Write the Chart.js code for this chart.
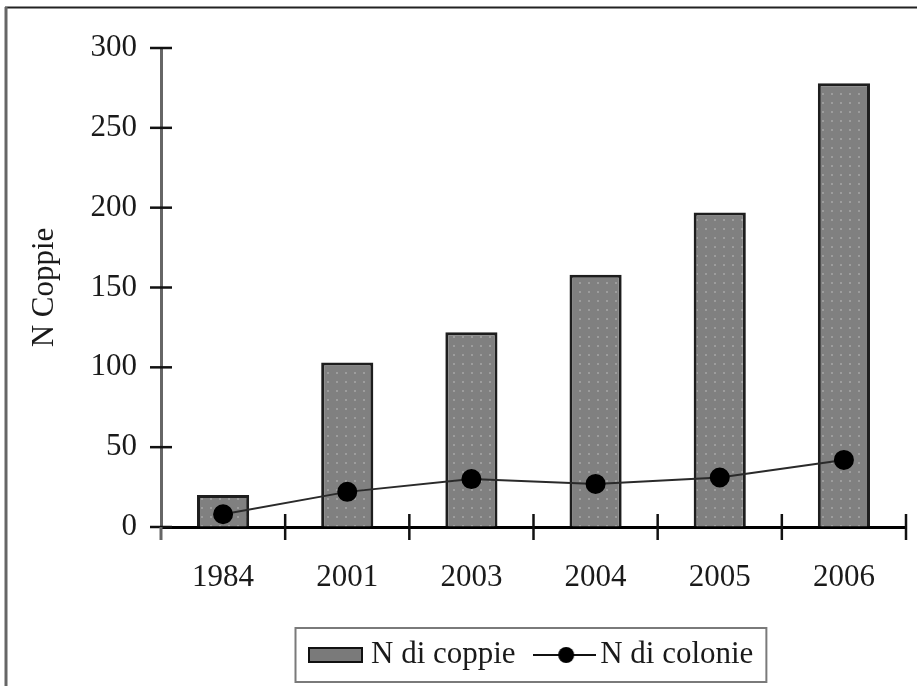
<!DOCTYPE html>
<html>
<head>
<meta charset="utf-8">
<script src="https://cdn.jsdelivr.net/npm/chart.js@4/dist/chart.umd.min.js"></script>
<style>
  html, body { margin: 0; padding: 0; background: #fff; }
  canvas { display: block; }
</style>
</head>
<body>
<canvas id="chart" width="917" height="686"></canvas>
<script>
// ---- data ----
const years = ["1984", "2001", "2003", "2004", "2005", "2006"];
const coppie = [20, 103, 122, 158, 197, 278];
const colonie = [8, 22, 30, 27, 31, 42];
const yTickValues = [0, 50, 100, 150, 200, 250, 300];

const FONT = "'Liberation Serif', 'Times New Roman', serif";
const TXT = "#1a1a1a";

// --- pattern untuk batang (abu-abu dengan titik) ---
function makeDots() {
  const c = document.createElement("canvas");
  c.width = 9; c.height = 9;
  const g = c.getContext("2d");
  g.fillStyle = "#808080";
  g.fillRect(0, 0, 9, 9);
  g.fillStyle = "#9d9d9d";
  g.fillRect(3, 3, 2, 2);
  return g.createPattern(c, "repeat");
}

// --- gambar kecil untuk legend ---
function barSwatch() {
  const c = document.createElement("canvas");
  c.width = 55; c.height = 16;
  const g = c.getContext("2d");
  g.fillStyle = "#7a7a7a";
  g.fillRect(0, 0, 55, 16);
  g.strokeStyle = "#111";
  g.lineWidth = 2;
  g.strokeRect(1, 1, 53, 14);
  return c;
}
function lineSwatch() {
  const c = document.createElement("canvas");
  c.width = 63; c.height = 20;
  const g = c.getContext("2d");
  g.strokeStyle = "#111";
  g.lineWidth = 2;
  g.beginPath(); g.moveTo(0, 10); g.lineTo(63, 10); g.stroke();
  g.fillStyle = "#000";
  g.beginPath(); g.arc(33, 10, 8, 0, Math.PI * 2); g.fill();
  return c;
}

// --- plugin: bingkai, tick sumbu, kotak legend ---
const decor = {
  id: "decor",
  afterLayout(chart) {
    if (chart.legend) chart.legend.left = 286.5;
  },
  afterDraw(chart) {
    const ctx = chart.ctx;
    const area = chart.chartArea;
    const xs = chart.scales.x, ys = chart.scales.y;
    ctx.save();
    // frame
    ctx.strokeStyle = "#222";
    ctx.lineWidth = 2;
    ctx.beginPath(); ctx.moveTo(5, 7.5); ctx.lineTo(917, 7.5); ctx.stroke();
    ctx.strokeStyle = "#666";
    ctx.lineWidth = 3;
    ctx.beginPath(); ctx.moveTo(6, 7); ctx.lineTo(6, 686); ctx.stroke();

    // y ticks
    ctx.strokeStyle = "#111";
    ctx.lineWidth = 2.5;
    ys.ticks.forEach((t) => {
      const y = ys.getPixelForValue(t.value);
      ctx.beginPath(); ctx.moveTo(area.left - 11, y); ctx.lineTo(area.left + 11, y); ctx.stroke();
    });
    // x ticks (batas kategori)
    for (let i = 1; i <= years.length; i++) {
      const x = i < years.length
        ? (xs.getPixelForValue(i - 1) + xs.getPixelForValue(i)) / 2
        : area.right;
      ctx.beginPath(); ctx.moveTo(x, area.bottom - 13); ctx.lineTo(x, area.bottom + 13); ctx.stroke();
    }
    // y axis extension below
    ctx.strokeStyle = "#666";
    ctx.lineWidth = 3;
    ctx.beginPath(); ctx.moveTo(area.left, area.bottom); ctx.lineTo(area.left, area.bottom + 13); ctx.stroke();

    // legend box
    const lg = chart.legend;
    if (lg && lg.legendHitBoxes && lg.legendHitBoxes.length) {
      const hb = lg.legendHitBoxes;
      const first = hb[0], last = hb[hb.length - 1];
      const cy = first.top + first.height / 2;
      const l = first.left - 20, r = last.left + last.width + 13;
      ctx.strokeStyle = "#7a7a7a";
      ctx.lineWidth = 2;
      ctx.strokeRect(l, cy - 27, r - l, 54);
    }
    ctx.restore();
  }
};

const ctx = document.getElementById("chart");
const legendImgs = [barSwatch(), lineSwatch()];

new Chart(ctx, {
  type: "bar",
  data: {
    labels: years,
    datasets: [
      {
        type: "line",
        label: "N di colonie",
        data: colonie,
        borderColor: "#2a2a2a",
        borderWidth: 2,
        pointRadius: 9,
        pointBackgroundColor: "#000",
        pointBorderColor: "#000",
        tension: 0,
        order: 0,
      },
      {
        label: "N di coppie",
        data: coppie,
        backgroundColor: makeDots(),
        borderColor: "#1e1e1e",
        borderWidth: 3,
        categoryPercentage: 1,
        barPercentage: 0.42,
        order: 1,
      },
    ],
  },
  options: {
    responsive: false,
    devicePixelRatio: 1,
    animation: false,
    layout: { padding: { left: 0, right: 11, top: 48, bottom: 5.5 } },
    plugins: {
      tooltip: { enabled: false },
      legend: {
        position: "bottom",
        align: "start",
        labels: {
          usePointStyle: true,
          pointStyleWidth: 40,
          padding: 29,
          color: TXT,
          font: { family: FONT, size: 31 },
          generateLabels: () => [
            { text: "N di coppie", pointStyle: legendImgs[0], datasetIndex: 1, hidden: false, lineWidth: 0, fontColor: TXT },
            { text: "N di colonie", pointStyle: legendImgs[1], datasetIndex: 0, hidden: false, lineWidth: 0, fontColor: TXT },
          ],
        },
      },
    },
    scales: {
      x: {
        z: 1,
        offset: true,
        grid: { drawOnChartArea: false, drawTicks: false },
        border: { color: "#000", width: 3 },
        ticks: { color: TXT, padding: 32, font: { family: FONT, size: 31 } },
        afterFit: (scale) => {
          const lg = scale.chart.legend;
          scale.height = scale.chart.height - 5.5 - (lg ? lg.height : 0) - 527;
        },
      },
      y: {
        min: 0,
        max: 300,
        grid: { drawOnChartArea: false, drawTicks: false },
        border: { color: "#666", width: 3 },
        afterBuildTicks: (scale) => {
          scale.ticks = yTickValues.map((v) => ({ value: v }));
        },
        ticks: { color: TXT, padding: 24, font: { family: FONT, size: 31 } },
        title: {
          display: true,
          text: "N Coppie",
          color: TXT,
          font: { family: FONT, size: 31 },
          padding: { top: 26, bottom: 0 },
        },
        afterFit: (scale) => { scale.width = 161; },
      },
    },
  },
  plugins: [decor],
});
</script>
</body>
</html>
